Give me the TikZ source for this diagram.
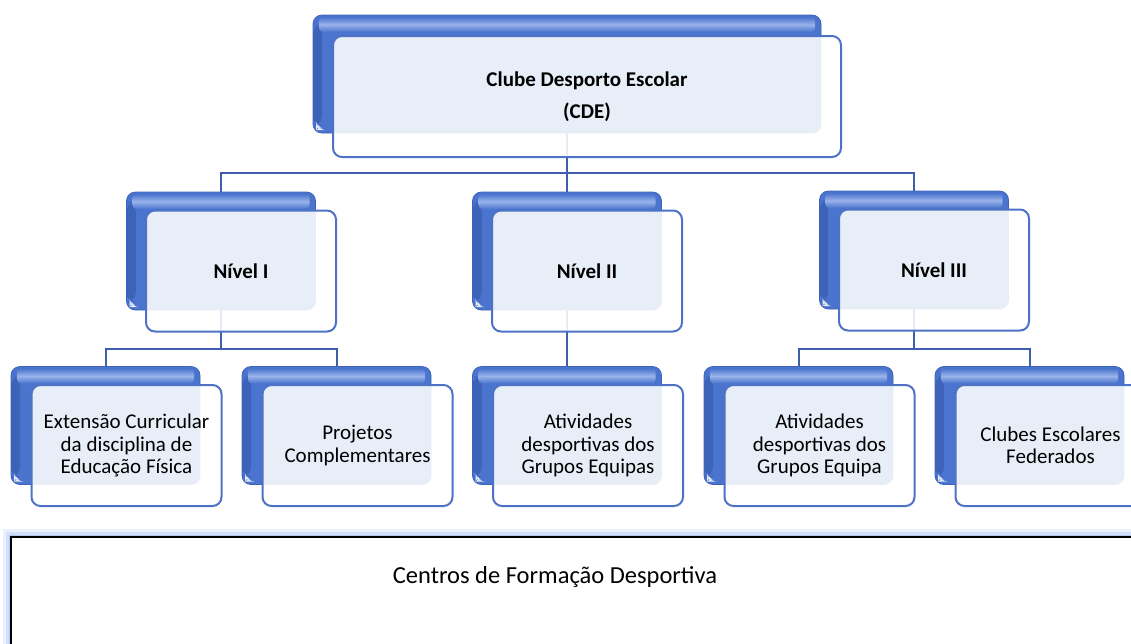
\documentclass[tikz,border=0pt]{standalone}
\usepackage{fontspec}
\setmainfont{Carlito}
\usetikzlibrary{calc}
\definecolor{boxblue}{HTML}{4A74CD}
\definecolor{boxdark}{HTML}{3D63B8}
\definecolor{hlblue}{HTML}{9AB3EA}
\definecolor{frontline}{HTML}{4E72C6}
\definecolor{connblue}{HTML}{3F5FAE}
\definecolor{glowblue}{HTML}{9DBAF2}
\pgfdeclarelayer{bg}
\pgfsetlayers{bg,main}
\tikzset{
  backbox/.style={rounded corners=9pt, minimum width=189pt, minimum height=118pt,
    inner sep=0pt, outer sep=0pt, fill=boxblue, draw=boxdark, line width=0.8pt,
    path picture={
      \shade[left color=boxdark, right color=boxblue]
        ([yshift=8pt]path picture bounding box.south west) rectangle
        ([xshift=9pt,yshift=-10pt]path picture bounding box.north west);
      \shade[rounded corners=4pt, top color=boxblue, bottom color=boxblue, middle color=hlblue]
        ([xshift=6pt,yshift=-2pt]path picture bounding box.north west) rectangle
        ([xshift=-6pt,yshift=-17pt]path picture bounding box.north east);
      \fill[white!85!boxblue]
        ([xshift=3pt,yshift=3pt]path picture bounding box.south west) --
        ([xshift=10pt,yshift=3pt]path picture bounding box.south west) --
        ([xshift=3pt,yshift=10pt]path picture bounding box.south west) -- cycle;
    }},
  frontbox/.style={rounded corners=9pt, minimum width=190pt, minimum height=121pt,
    inner sep=2pt, outer sep=0pt, fill=white, fill opacity=0.88, text opacity=1,
    draw=frontline, draw opacity=1, line width=2pt, align=center,
    font=\fontsize{21}{22.5}\selectfont},
  boldtext/.style={font=\fontsize{21}{22.5}\selectfont\bfseries},
  conn/.style={draw=connblue, line width=2pt}
}
\begin{document}
\begin{tikzpicture}[x=1pt,y=-1pt]
\useasboundingbox (0,0) rectangle (1131,643);
\clip (0,0) rectangle (1131,643);

% top
\node[backbox, minimum width=508pt] (b0) at (567,74) {};
\node[frontbox, boldtext, minimum width=508pt] (f0) at (587,96.5)
  {Clube Desporto Escolar\\[9pt](CDE)};

% level 2
\node[backbox] (b1) at (221,251) {};
\node[frontbox, boldtext] (f1) at (241,271) {Nível I};
\node[backbox] (b2) at (567,251) {};
\node[frontbox, boldtext] (f2) at (587,271) {Nível II};
\node[backbox] (b3) at (914,250) {};
\node[frontbox, boldtext] (f3) at (934,270) {Nível III};

% level 3
\node[backbox] (c1) at (105.5,425.5) {};
\node[frontbox] (g1) at (126.5,445.5) {Extensão Curricular\\da disciplina de\\Educação Física};
\node[backbox] (c2) at (336.5,425.5) {};
\node[frontbox] (g2) at (357.5,445.5) {Projetos\\Complementares};
\node[backbox] (c3) at (567,425.5) {};
\node[frontbox] (g3) at (588,445.5) {Atividades\\desportivas dos\\Grupos Equipas};
\node[backbox] (c4) at (798.5,425.5) {};
\node[frontbox] (g4) at (819.5,445.5) {Atividades\\desportivas dos\\Grupos Equipa};
\node[backbox] (c5) at (1029.5,425.5) {};
\node[frontbox] (g5) at (1050.5,445.5) {Clubes Escolares\\Federados};

% connectors
\begin{pgfonlayer}{bg}
\draw[conn] (b0.south) -- ++(0,40) -| (b1.north);
\draw[conn] (b0.south) -- (b2.north);
\draw[conn] (b0.south) -- ++(0,40) -| (b3.north);
\draw[conn] (b1.south) -- ++(0,39) -| (c1.north);
\draw[conn] (b1.south) -- ++(0,39) -| (c2.north);
\draw[conn] (b2.south) -- (c3.north);
\draw[conn] (b3.south) -- ++(0,40) -| (c4.north);
\draw[conn] (b3.south) -- ++(0,40) -| (c5.north);
\end{pgfonlayer}

% bottom frame
\coordinate (r1) at (11,537);
\coordinate (r2) at (1160,680);
\draw[glowblue!20, line width=16pt] (r1) rectangle (r2);
\draw[glowblue!45, line width=11pt] (r1) rectangle (r2);
\draw[glowblue!80, line width=5pt] (r1) rectangle (r2);
\fill[white] (r1) rectangle (r2);
\draw[black, line width=1.6pt] (r1) rectangle (r2);
\node[font=\fontsize{24.5}{28}\selectfont, inner sep=0pt] (cfd) at (555,577) {Centros de Formação Desportiva};
\end{tikzpicture}
\end{document}
